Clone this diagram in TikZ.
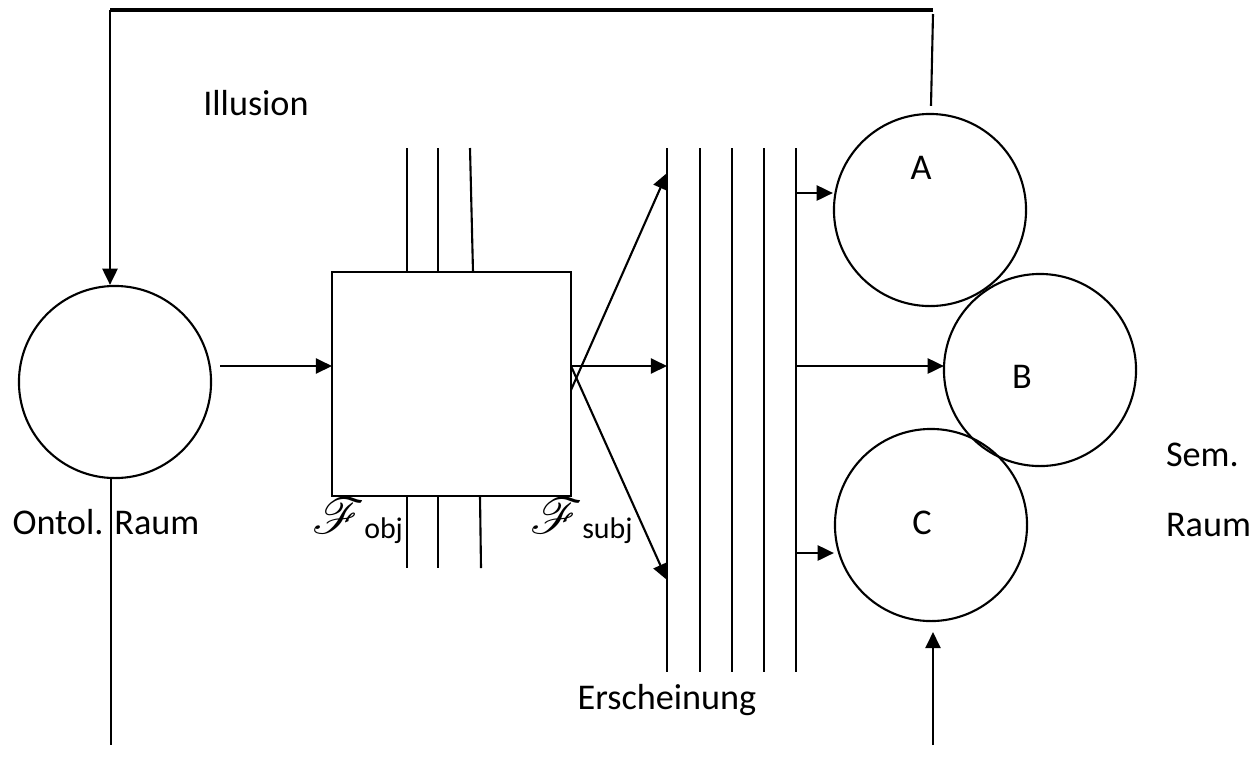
\documentclass[tikz,border=0pt]{standalone}
\usepackage{fontspec}
\setmainfont{Carlito}
\usepackage{mathrsfs}
\usetikzlibrary{arrows.meta,calc}
\begin{document}
\begin{tikzpicture}[x=0.01cm,y=-0.01cm,line width=0.6pt,
  tip/.style={-{Triangle[length=4.6pt,width=4.3pt]}},
  ring/.style={circle,draw,minimum size=1.92cm,inner sep=0pt},
  lbl/.style={font=\fontsize{10.3}{12}\selectfont,inner sep=0pt},
  flbl/.style={inner sep=0pt,anchor=base west}]
\useasboundingbox (0,0) rectangle (1260,757);
% nodes
\node[ring] (onto) at (115,382) {};
\node[draw,minimum width=2.39cm,minimum height=2.24cm,inner sep=0pt] (box) at (451.5,384) {};
\node[ring] (A) at (930,210) {};
\node[ring] (B) at (1040,370) {};
\node[ring] (C) at (931,525) {};
% labels
\node[lbl] (lA) at (921,168) {A};
\node[lbl] (lB) at (1022,377) {B};
\node[lbl] (lC) at (922,523) {C};
\node[lbl] (ill) at (256,103) {Illusion};
\node[lbl] (ont) at (106,522) {Ontol. Raum};
\node[lbl] (ers) at (667,700) {Erscheinung};
\node[lbl,anchor=west] (sem) at (1165,455) {Sem.};
\node[lbl,anchor=west] (raum) at (1165,525) {Raum};
\node[flbl] (fobj) at (311,533) {\fontsize{15}{15}\selectfont$\mathscr{F}$\fontsize{8.5}{9}\selectfont\raisebox{-0.35ex}{obj}};
\node[flbl] (fsubj) at (529,533) {\fontsize{15}{15}\selectfont$\mathscr{F}$\fontsize{8.5}{9}\selectfont\raisebox{-0.35ex}{subj}};
% feedback loop
\coordinate (tl) at (110,10);
\coordinate (tr) at (933,10);
\draw[line width=0.9pt] (tr) -- (tl);
\draw[tip] (tl) -- (tl |- onto.north);
\draw ($(A.north)+(1,-7)$) -- (933,14);
% left bottom line
\coordinate (lb) at (111,745);
\draw (lb |- onto.south) -- (lb);
% onto -> box
\coordinate (bin) at (332,366);
\draw[tip] (220,366) -- (bin);
% lines through box
\foreach \xa/\xb in {407/407,438/438,470/473}
  \draw (\xa,148) -- (\xb,272);
\foreach \xa/\xb in {407/407,438/438,480/481}
  \draw (\xa,496) -- (\xb,568);
% Erscheinung lines
\foreach \x in {667,700,732,764,796}
  \draw (\x,148) -- (\x,672);
\coordinate (e1) at (667,173);
\coordinate (e2) at (667,366);
\coordinate (e3) at (667,580);
\draw[tip] (571,390) -- (e1);
\draw[tip] (571,366) -- (e2);
\draw[tip] (571,366) -- (e3);
% to circles
\coordinate (r1) at (796,193);
\coordinate (r2) at (796,366);
\coordinate (r3) at (796,553);
\draw[tip] (r1) -- (r1 -| A.west);
\draw[tip] (r2) -- ($(B.west |- r2)+(1,0)$);
\draw[tip] (r3) -- (r3 -| C.west);
% bottom arrow to C
\coordinate (cb) at (933,745);
\draw[tip] (cb) -- (933,632);
\end{tikzpicture}
\end{document}
